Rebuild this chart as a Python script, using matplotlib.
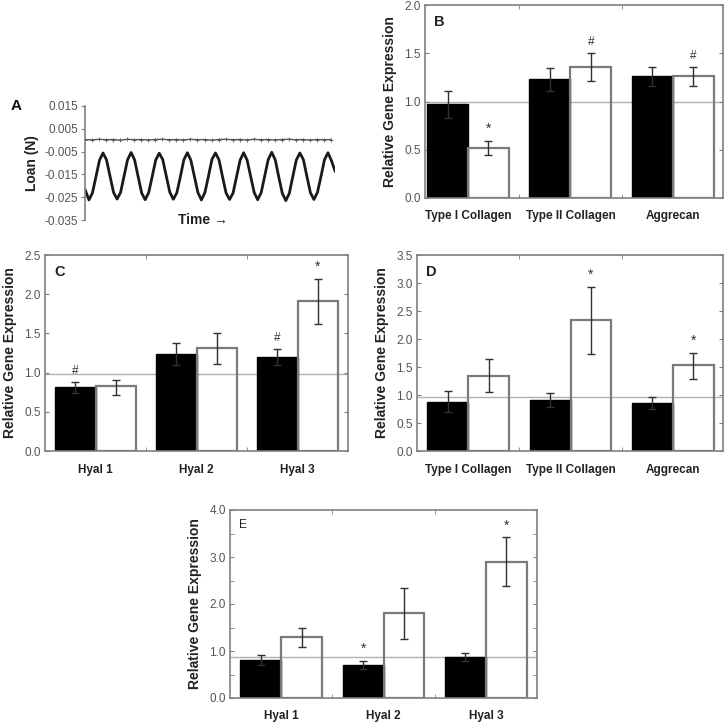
import numpy as np
import matplotlib
matplotlib.use("Agg")
import matplotlib.pyplot as plt
from matplotlib.ticker import FixedLocator, MultipleLocator

plt.rcParams['font.family'] = ['Liberation Sans', 'DejaVu Sans']
plt.rcParams['axes.unicode_minus'] = False

# ---------------- Panel A data (load trace, N) ----------------
a_yticks = [0.015, 0.005, -0.005, -0.015, -0.025, -0.035]
a_load = [-0.0220,
          -0.0262, -0.0231, -0.0160, -0.0088, -0.0056, -0.0086, -0.0158, -0.0229,
          -0.0258, -0.0229, -0.0157, -0.0085, -0.0054, -0.0087, -0.0160, -0.0232,
          -0.0261, -0.0230, -0.0159, -0.0087, -0.0057, -0.0085, -0.0157, -0.0228,
          -0.0259, -0.0231, -0.0161, -0.0086, -0.0055, -0.0088, -0.0159, -0.0230,
          -0.0262, -0.0229, -0.0158, -0.0084, -0.0056, -0.0086, -0.0160, -0.0231,
          -0.0260, -0.0232, -0.0160, -0.0088, -0.0055, -0.0087, -0.0158, -0.0229,
          -0.0261, -0.0230, -0.0157, -0.0085, -0.0053, -0.0086, -0.0161, -0.0232,
          -0.0265, -0.0233, -0.0159, -0.0087, -0.0056, -0.0085, -0.0158, -0.0230,
          -0.0260, -0.0229, -0.0160, -0.0086, -0.0055, -0.0090, -0.0135]
a_load_t0, a_load_dt = 0.015, 0.125
a_ctrl = [0.0003, 0.0001, 0.0004, 0.0002, 0.0003, 0.0000, 0.0004, 0.0002,
          0.0003, 0.0001, 0.0003, 0.0004, 0.0002, 0.0003, 0.0001, 0.0004,
          0.0002, 0.0003, 0.0000, 0.0003, 0.0004, 0.0002, 0.0003, 0.0001,
          0.0004, 0.0002, 0.0003, 0.0001, 0.0003, 0.0004, 0.0002, 0.0003,
          0.0001, 0.0003, 0.0002, 0.0003]
a_ctrl_dt = 0.25

# ---------------- Panel B ----------------
b_categories = ["Type I Collagen", "Type II Collagen", "Aggrecan"]
b_black = [0.97, 1.23, 1.26]
b_black_hi = [1.11, 1.35, 1.36]
b_white = [0.52, 1.36, 1.26]
b_white_hi = [0.59, 1.50, 1.36]
b_white_lo = [0.45, 1.21, 1.16]
b_mark_black = ["", "", ""]
b_mark_white = ["*", "#", "#"]
b_ref = 1.0

# ---------------- Panel C ----------------
c_categories = ["Hyal 1", "Hyal 2", "Hyal 3"]
c_black = [0.81, 1.24, 1.20]
c_black_hi = [0.88, 1.38, 1.30]
c_white = [0.825, 1.31, 1.91]
c_white_hi = [0.91, 1.51, 2.20]
c_white_lo = [0.72, 1.105, 1.62]
c_mark_black = ["#", "", "#"]
c_mark_white = ["", "", "*"]
c_ref = 0.98

# ---------------- Panel D ----------------
d_categories = ["Type I Collagen", "Type II Collagen", "Aggrecan"]
d_black = [0.88, 0.91, 0.86]
d_black_hi = [1.07, 1.04, 0.97]
d_white = [1.34, 2.34, 1.54]
d_white_hi = [1.65, 2.93, 1.75]
d_white_lo = [1.06, 1.74, 1.28]
d_mark_black = ["", "", ""]
d_mark_white = ["", "*", "*"]
d_ref = 0.96

# ---------------- Panel E ----------------
e_categories = ["Hyal 1", "Hyal 2", "Hyal 3"]
e_black = [0.81, 0.70, 0.87]
e_black_hi = [0.91, 0.79, 0.96]
e_white = [1.30, 1.81, 2.89]
e_white_hi = [1.50, 2.35, 3.42]
e_white_lo = [1.08, 1.25, 2.39]
e_mark_black = ["", "*", ""]
e_mark_white = ["", "", "*"]
e_ref = 0.88

W, H = 725, 727
fig = plt.figure(figsize=(W / 100, H / 100), dpi=100)

def px_axes(left, top, right, bottom):
    return fig.add_axes([left / W, 1 - bottom / H, (right - left) / W, (bottom - top) / H])

SPINE = '#808080'
TICKC = '#555555'
BW = 0.4

def mark(ax, s, x, y):
    ax.annotate(s, (x, y), xytext=(0, 3.5), textcoords='offset points',
                ha='center', va='bottom', fontsize=10 if s == '*' else 8.5,
                color='#333333')

def bar_panel(ax, cats, blk, blk_hi, wht, wht_hi, wht_lo, mk_b, mk_w, ref,
              ymax, ystep, label, label_bold, xlim, minor_step=None):
    x = np.arange(len(cats))
    ax.axhline(ref, color='#b0b0b0', lw=1.0, zorder=0.5)
    ax.bar(x - BW / 2, blk, BW, color='black', edgecolor='black', lw=1.0, zorder=2)
    ax.bar(x + BW / 2, wht, BW, facecolor='none', edgecolor='#7a7a7a', lw=1.6, zorder=2)
    bh = np.array(blk_hi) - np.array(blk)
    ax.errorbar(x - BW / 2, blk, yerr=[bh, bh], fmt='none', ecolor='#303030',
                elinewidth=1.0, capsize=3, capthick=1.0, zorder=3)
    wl = np.array(wht) - np.array(wht_lo)
    wh = np.array(wht_hi) - np.array(wht)
    ax.errorbar(x + BW / 2, wht, yerr=[wl, wh], fmt='none', ecolor='#303030',
                elinewidth=1.0, capsize=3, capthick=1.0, zorder=3)
    for i in range(len(cats)):
        if mk_b[i]:
            mark(ax, mk_b[i], x[i] - BW / 2, blk_hi[i])
        if mk_w[i]:
            mark(ax, mk_w[i], x[i] + BW / 2, wht_hi[i])
    ax.set_xlim(*xlim)
    ax.set_ylim(0, ymax)
    ax.set_xticks(x)
    ax.set_xticklabels(cats, fontweight='bold', fontsize=8.5, color='#222222')
    ax.xaxis.set_minor_locator(FixedLocator([0.5, 1.5]))
    ax.tick_params(axis='x', which='major', length=0, pad=9)
    ax.tick_params(axis='x', which='minor', direction='in', length=3, top=True,
                   bottom=True, color=SPINE)
    ax.set_yticks(np.arange(0, ymax + 1e-9, ystep))
    ax.set_yticklabels([f"{v:.1f}" for v in np.arange(0, ymax + 1e-9, ystep)])
    if minor_step:
        ax.yaxis.set_minor_locator(MultipleLocator(minor_step))
        ax.tick_params(axis='y', which='minor', direction='in', length=3,
                       left=True, right=True, color=SPINE)
    ax.tick_params(axis='y', which='major', direction='in', length=3, left=True,
                   right=True, labelsize=8.5, labelcolor=TICKC, color=SPINE, pad=3)
    for s in ax.spines.values():
        s.set_color(SPINE)
        s.set_linewidth(1.2)
    ax.set_ylabel("Relative Gene Expression", fontweight='bold', fontsize=10,
                  color='#222222', labelpad=5)
    ax.text(0.03, 0.95, label, transform=ax.transAxes, ha='left', va='top',
            fontsize=10.5 if label_bold else 8.5,
            fontweight='bold' if label_bold else 'normal', color='#222222')

# Panel A
axA = px_axes(85, 106, 335, 220)
tL = a_load_t0 + a_load_dt * np.arange(len(a_load))
tC = a_ctrl_dt * np.arange(len(a_ctrl))
axA.plot(tC, a_ctrl, color='#555555', lw=1.0, marker='+', ms=2.5, mew=0.6)
axA.plot(tL, a_load, color='#1a1a1a', lw=2.0)
axA.set_xlim(0, tL[-1])
axA.set_ylim(-0.035, 0.015)
axA.set_yticks(a_yticks)
axA.set_yticklabels([f"{v:.3f}" for v in a_yticks])
axA.tick_params(axis='y', direction='out', length=3, labelsize=8.5,
                labelcolor=TICKC, color=SPINE, pad=2)
axA.set_xticks([])
for k in ['top', 'right', 'bottom']:
    axA.spines[k].set_visible(False)
axA.spines['left'].set_color(SPINE)
axA.spines['left'].set_linewidth(1.2)
axA.set_ylabel("Loan (N)", fontweight='bold', fontsize=10, color='#222222', labelpad=4)
axA.text(0.47, 0.0, "Time \u2192", transform=axA.transAxes, ha='center', va='center',
         fontweight='bold', fontsize=10, color='#222222')
fig.text(16 / W, 1 - 106 / H, "A", ha='center', va='center', fontweight='bold',
         fontsize=11, color='#111111')

axB = px_axes(425, 5, 723, 198)
bar_panel(axB, b_categories, b_black, b_black_hi, b_white, b_white_hi, b_white_lo,
          b_mark_black, b_mark_white, b_ref, 2.0, 0.5, "B", True, (-0.42, 2.49))

axC = px_axes(45, 255, 348, 451)
bar_panel(axC, c_categories, c_black, c_black_hi, c_white, c_white_hi, c_white_lo,
          c_mark_black, c_mark_white, c_ref, 2.5, 0.5, "C", True, (-0.5, 2.5))

axD = px_axes(417, 255, 723, 451)
bar_panel(axD, d_categories, d_black, d_black_hi, d_white, d_white_hi, d_white_lo,
          d_mark_black, d_mark_white, d_ref, 3.5, 0.5, "D", True, (-0.5, 2.49))

axE = px_axes(230, 510, 537, 698)
bar_panel(axE, e_categories, e_black, e_black_hi, e_white, e_white_hi, e_white_lo,
          e_mark_black, e_mark_white, e_ref, 4.0, 1.0, "E", False, (-0.5, 2.5),
          minor_step=0.5)

fig.savefig("out.png", dpi=100)
